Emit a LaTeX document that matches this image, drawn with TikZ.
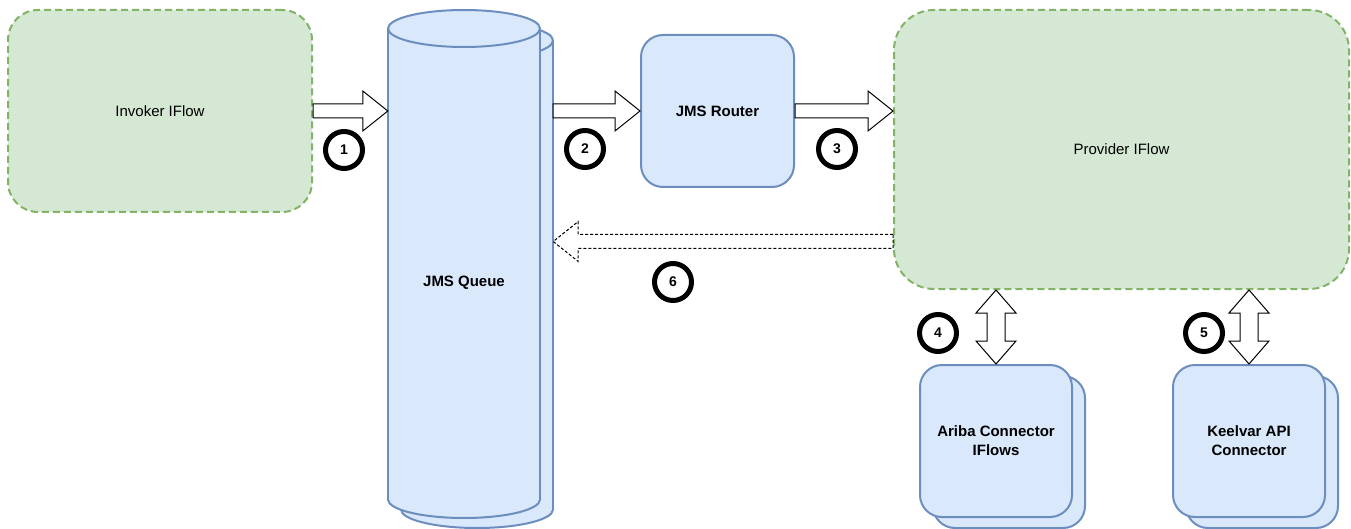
\documentclass[tikz,border=0pt]{standalone}
\usepackage{fontspec}
\setmainfont{Liberation Sans}
\usetikzlibrary{calc}
\definecolor{gfill}{HTML}{D5E8D4}
\definecolor{gline}{HTML}{82B366}
\definecolor{bfill}{HTML}{DAE8FC}
\definecolor{bline}{HTML}{6C8EBF}
\tikzset{
  greenbox/.style={draw=gline, fill=gfill, line width=2pt, dash pattern=on 7pt off 4pt, rounded corners=#1, inner sep=0pt, font=\fontsize{15}{19}\selectfont},
  bluebox/.style={draw=bline, fill=bfill, line width=2pt, rounded corners=22pt, minimum width=152pt, minimum height=152pt, inner sep=0pt, align=center, font=\fontsize{15}{19}\selectfont\bfseries},
  numcirc/.style={circle, draw=black, line width=5pt, minimum size=37pt, inner sep=0pt, font=\fontsize{14}{16}\selectfont\bfseries},
  blockarrow/.style={draw=black, fill=white, line width=1pt, line join=miter},
  cylpart/.style={fill=bfill, draw=bline, line width=2pt},
}
% horizontal block arrow from #2 to #3
\newcommand{\harrow}[3][]{%
  \draw[blockarrow,#1] let \p1=(#2), \p2=(#3), \n1={ifthenelse(\x2>\x1,25,-25)} in
    (\x1,\y1+7pt) -- (\x2-\n1*1pt,\y1+7pt) -- (\x2-\n1*1pt,\y1+20pt) -- (\x2,\y1) --
    (\x2-\n1*1pt,\y1-20pt) -- (\x2-\n1*1pt,\y1-7pt) -- (\x1,\y1-7pt) -- cycle;}
% vertical double block arrow from #1 to #2
\newcommand{\varrow}[2]{%
  \draw[blockarrow] let \p1=(#1), \p2=(#2), \n1={ifthenelse(\y2>\y1,23,-23)} in
    (\x1,\y1) -- (\x1+20pt,\y1+\n1*1pt) -- (\x1+9pt,\y1+\n1*1pt) -- (\x1+9pt,\y2-\n1*1pt) --
    (\x1+20pt,\y2-\n1*1pt) -- (\x1,\y2) -- (\x1-20pt,\y2-\n1*1pt) -- (\x1-9pt,\y2-\n1*1pt) --
    (\x1-9pt,\y1+\n1*1pt) -- (\x1-20pt,\y1+\n1*1pt) -- cycle;}
% cylinder: left x, right x, top ellipse centre y, bottom ellipse centre y
\newcommand{\cyl}[4]{%
  \draw[cylpart] ({(#1+#2)/2},#4) ellipse ({(#2-#1)/2} and 18.5);
  \fill[bfill] (#1,#3) rectangle (#2,#4);
  \draw[bline, line width=2pt] (#1,#3) -- (#1,#4) (#2,#3) -- (#2,#4);
  \draw[cylpart] ({(#1+#2)/2},#3) ellipse ({(#2-#1)/2} and 18.5);}
\begin{document}
\begin{tikzpicture}[x=1pt,y=-1pt]
\useasboundingbox (0,0) rectangle (1351,529);

% Invoker IFlow
\node[greenbox=30pt, minimum width=304pt, minimum height=202pt] (inv) at (160,111) {Invoker IFlow};

% JMS Queue (stacked cylinders)
\cyl{401}{553}{40.5}{509.5}
\cyl{388}{540}{28.5}{499.5}
\node[minimum width=152pt, minimum height=451pt, inner sep=0pt] (qback) at (477,284) {};
\node[minimum width=152pt, minimum height=471pt, inner sep=0pt, font=\fontsize{15}{19}\selectfont\bfseries] (queue) at (464,282.5) {JMS Queue};

% JMS Router
\node[bluebox, minimum width=153pt] (router) at (717.5,111) {JMS Router};

% Provider IFlow
\node[greenbox=40pt, minimum width=455pt, minimum height=279pt] (prov) at (1121.5,149.5) {Provider IFlow};

% Connectors (stacked)
\node[bluebox] (arib2) at (1009,452) {};
\node[bluebox] (ariba) at (996,441) {Ariba Connector\\IFlows};
\node[bluebox] (keel2) at (1262,452) {};
\node[bluebox] (keel) at (1249,441) {Keelvar API\\Connector};

% block arrows
\harrow{inv.east}{inv.east -| queue.west}
\harrow{router.west -| qback.east}{router.west}
\harrow{router.east}{router.east -| prov.west}
\coordinate (r6) at (prov.west |- 0,241.5);
\harrow[dashed, dash pattern=on 3pt off 2pt]{r6}{r6 -| qback.east}
\varrow{ariba.north |- prov.south}{ariba.north}
\varrow{keel.north |- prov.south}{keel.north}

% number circles
\node[numcirc] (n1) at (344,150) {1};
\node[numcirc] (n2) at (585,149) {2};
\node[numcirc] (n3) at (837,149) {3};
\node[numcirc] (n4) at (938,333) {4};
\node[numcirc] (n5) at (1204,333) {5};
\node[numcirc] (n6) at (673,282) {6};
\end{tikzpicture}
\end{document}
